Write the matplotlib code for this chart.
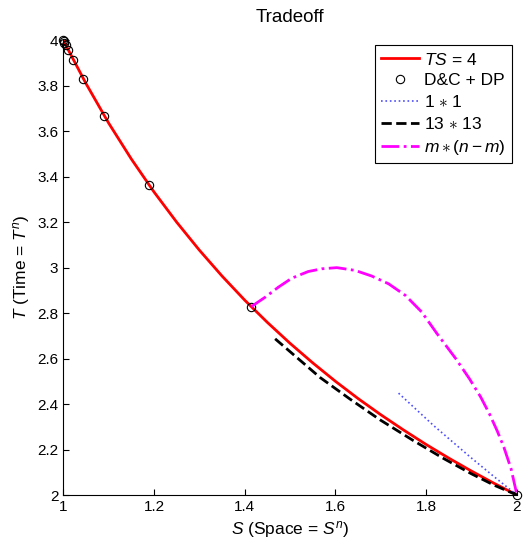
import matplotlib
matplotlib.use("Agg")
import matplotlib.pyplot as plt
from matplotlib.ticker import FormatStrFormatter

plt.rcParams['font.family'] = ['Liberation Sans', 'DejaVu Sans']
plt.rcParams['mathtext.fontset'] = 'custom'
plt.rcParams['mathtext.rm'] = 'Liberation Sans'
plt.rcParams['mathtext.it'] = 'Liberation Sans:italic'

# TS = 4 curve
ts_S = [1.00, 1.05, 1.10, 1.15, 1.20, 1.25, 1.30, 1.35, 1.40, 1.45, 1.50,
        1.55, 1.60, 1.65, 1.70, 1.75, 1.80, 1.85, 1.90, 1.95, 2.00]
ts_T = [4.000, 3.810, 3.636, 3.478, 3.333, 3.200, 3.077, 2.963, 2.857, 2.759, 2.667,
        2.581, 2.500, 2.424, 2.353, 2.286, 2.222, 2.162, 2.105, 2.051, 2.000]

# D&C + DP points
dc_S = [1.0, 1.0014, 1.0027, 1.0054, 1.0109, 1.0219, 1.0443, 1.0905, 1.1892, 1.4142, 2.0]
dc_T = [4.0, 3.9946, 3.9892, 3.9784, 3.9569, 3.9144, 3.8302, 3.6680, 3.3636, 2.8284, 2.0]

# 1 * 1
one_S = [1.739, 1.816, 1.897, 1.950, 2.000]
one_T = [2.448, 2.306, 2.167, 2.080, 2.000]

# 13 * 13
thirteen_S = [1.467, 1.566, 1.632, 1.698, 1.772, 1.838, 1.900, 1.950, 2.000]
thirteen_T = [2.687, 2.517, 2.422, 2.331, 2.239, 2.161, 2.093, 2.043, 2.000]

# m * (n - m)
mn_S = [1.414, 1.445, 1.474, 1.504, 1.540, 1.570, 1.603, 1.643, 1.680, 1.717,
        1.754, 1.790, 1.824, 1.865, 1.895, 1.920, 1.939, 1.956, 1.971, 1.987, 2.000]
mn_T = [2.828, 2.870, 2.914, 2.954, 2.983, 2.995, 3.000, 2.988, 2.963, 2.929,
        2.878, 2.805, 2.709, 2.600, 2.512, 2.431, 2.358, 2.284, 2.211, 2.115, 2.000]

labels = [r'$TS$ = 4', 'D&C + DP', r'1 $\ast$ 1', r'13 $\ast$ 13', r'$m \ast (n - m)$']
xticks = [1, 1.2, 1.4, 1.6, 1.8, 2]
yticks = [2, 2.2, 2.4, 2.6, 2.8, 3, 3.2, 3.4, 3.6, 3.8, 4]

fig = plt.figure(figsize=(5.27, 5.44), dpi=100)
ax = fig.add_axes([0.120, 0.090, 0.861, 0.836])

ax.plot(ts_S, ts_T, color='red', lw=2, label=labels[0])
ax.plot(dc_S, dc_T, 'o', mfc='none', mec='black', ms=6, mew=0.8, label=labels[1], clip_on=False)
ax.plot(one_S, one_T, ':', color=(0.3, 0.3, 1.0), lw=1.2, label=labels[2])
ax.plot(thirteen_S, thirteen_T, '--', color='black', lw=2, label=labels[3])
ax.plot(mn_S, mn_T, '-.', color='magenta', lw=2, label=labels[4])

ax.set_xlim(1, 2)
ax.set_ylim(2, 4)
ax.set_xticks(xticks)
ax.set_yticks(yticks)
ax.xaxis.set_major_formatter(FormatStrFormatter('%g'))
ax.yaxis.set_major_formatter(FormatStrFormatter('%g'))
ax.tick_params(direction='in', length=4, labelsize=11)
ax.spines['top'].set_visible(False)
ax.spines['right'].set_visible(False)

ax.set_title('Tradeoff', fontsize=13.5, pad=13)
ax.set_xlabel(r'$S$ (Space = $S^n$)', fontsize=12.5)
ax.set_ylabel(r'$T$ (Time = $T^n$)', fontsize=12.5)

leg = ax.legend(loc='upper right', fontsize=12.5, fancybox=False, edgecolor='black',
                framealpha=1, borderaxespad=0.3, handlelength=2.2, handletextpad=0.3,
                labelspacing=0.33, borderpad=0.35)
leg.get_frame().set_linewidth(0.8)

fig.savefig('out.png', dpi=100)
